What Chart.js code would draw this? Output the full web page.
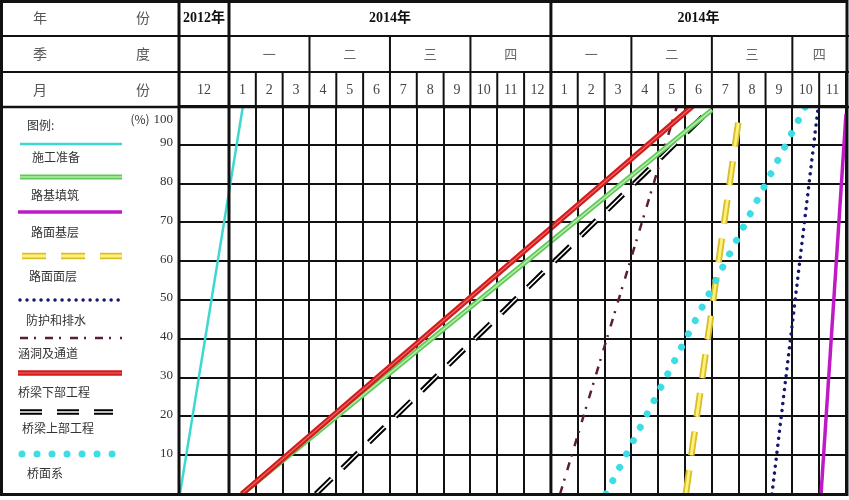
<!DOCTYPE html>
<html><head><meta charset="utf-8">
<script src="https://cdn.jsdelivr.net/npm/chart.js@4/dist/chart.umd.min.js"></script>
<style>html,body{margin:0;padding:0;background:#fff}#wrap{width:849px;height:500px;position:relative}</style>
</head><body><div id="wrap"><canvas id="c"></canvas></div>
<script>
// ---------- DATA ----------
// x = months counted from the start of the first 2014 column (the 2012 "12" column lies left of 0)
const seriesNames = ['施工准备','路基填筑','路面基层','路面面层','防护和排水','涵洞及通道','桥梁下部工程','桥梁上部工程','桥面系'];
const startMonth  = [-1.83, 0.48, 22.07, 17.03, 20.24, 12.34, 0.48, 3.24, 14.05];
const startPercent= [0, 0, 0, 0, 0, 0, 0, 0, 0];
const endMonth    = [0.52, 18.0, 23.0, 19.05, 21.95, 16.70, 17.29, 18.0, 21.5];
const endPercent  = [100, 99, 98, 99, 99, 100, 100, 99.5, 100];

const yearLabels    = ['2012年', '2014年', '2014年'];
const quarterLabels = ['一','二','三','四','一','二','三','四'];
const monthLabels   = ['12','1','2','3','4','5','6','7','8','9','10','11','12','1','2','3','4','5','6','7','8','9','10','11'];
const percentTicks  = [10,20,30,40,50,60,70,80,90,100];
const headerTitles  = [['年','份'],['季','度'],['月','份']];

// ---------- LAYOUT / STYLE ----------
const COL2012 = 1.864;            // width of 2012 column in month units
const X_MIN = -COL2012, X_MAX = 23;
const monthBounds = [X_MIN]; for (let m = 0; m <= 23; m++) monthBounds.push(m);
const yearSpans = [[X_MIN,0],[0,12],[12,23]];
const quarterSpans = [[0,3],[3,6],[6,9],[9,12],[12,15],[15,18],[18,21],[21,23]];

const styles = [
  [{c:'#3ED8D2', w:2.5}],
  [{c:'#5FC85A', w:5}, {c:'#B8EDA8', w:1.6}],
  [{c:'#BE1BC6', w:3.5}],
  [{c:'#D9BE2C', w:6.5, d:[24,15]}, {c:'#FFF27A', w:2.8, d:[24,15]}],
  [{c:'#16166E', w:3.5, d:[0.01,7], cap:'round'}],
  [{c:'#5A1E3C', w:2.5, d:[8,6,2,9]}],
  [{c:'#D21C1C', w:5.5}, {c:'#EE6A6A', w:1.1}],
  [{c:'#000000', w:5.5, d:[22,15]}, {c:'#FFFFFF', w:1.5, d:[22,15]}],
  [{c:'#3CDDE4', w:7, d:[0.01,15], cap:'round'}]
];
const drawSeq = [0,4,5,2,3,8,7,1,6]; // back to front

const datasets = [];
let ord = 1000;
drawSeq.forEach(i => {
  styles[i].forEach((s, k) => {
    datasets.push({
      label: seriesNames[i] + (k ? '_in' : ''),
      data: [{x:startMonth[i], y:startPercent[i]}, {x:endMonth[i], y:endPercent[i]}],
      borderColor: s.c, borderWidth: s.w, borderDash: s.d || [],
      borderCapStyle: s.cap || 'butt', pointRadius: 0, fill: false, tension: 0,
      order: ord--
    });
  });
});

const SERIF = '"Liberation Serif","DejaVu Serif",serif';
const CJK = '"Noto Sans CJK SC","Noto Sans",sans-serif';

const tablePlugin = {
  id: 'table',
  beforeDraw(chart) {
    const ctx = chart.ctx;
    ctx.save(); ctx.fillStyle = '#fff'; ctx.fillRect(0,0,chart.width,chart.height); ctx.restore();
  },
  afterDraw(chart) {
    const ctx = chart.ctx, xs = chart.scales.x, ys = chart.scales.y;
    const X = v => xs.getPixelForValue(v);
    const W = chart.width;
    const rows = [2, 36, 72, 107];
    const bottom = ys.getPixelForValue(0);
    ctx.save();
    ctx.strokeStyle = '#111';
    const line = (x1,y1,x2,y2,w) => { ctx.lineWidth = w; ctx.beginPath(); ctx.moveTo(x1,y1); ctx.lineTo(x2,y2); ctx.stroke(); };
    line(0, rows[1], W, rows[1], 2);
    line(0, rows[2], W, rows[2], 2);
    line(0, rows[3], W, rows[3], 2.5);
    quarterSpans.forEach(s => { line(X(s[0]), rows[1], X(s[0]), rows[2], 2); });
    monthBounds.forEach(v => line(X(v), rows[2], X(v), rows[3], 2));
    [X_MIN, 0, 12].forEach(v => line(X(v), rows[0], X(v), bottom, 3));
    ctx.lineWidth = 3; ctx.strokeRect(1.5, 1.5, X(X_MAX) - 0.5, bottom - 1);

    ctx.textAlign = 'center'; ctx.textBaseline = 'middle';
    const cy = [18, 54, 90];
    ctx.fillStyle = '#555'; ctx.font = '14px ' + CJK;
    headerTitles.forEach((t, r) => { ctx.fillText(t[0], 40, cy[r]); ctx.fillText(t[1], 143, cy[r]); });
    ctx.fillStyle = '#111'; ctx.font = 'bold 14px ' + SERIF + ',' + CJK;
    yearSpans.forEach((s, i) => ctx.fillText(yearLabels[i], (X(s[0]) + X(s[1])) / 2, cy[0]));
    ctx.fillStyle = '#666'; ctx.font = '13px ' + CJK;
    quarterSpans.forEach((s, i) => ctx.fillText(quarterLabels[i], (X(s[0]) + X(s[1])) / 2, cy[1]));
    ctx.fillStyle = '#444'; ctx.font = '14px ' + SERIF;
    monthLabels.forEach((m, i) => ctx.fillText(m, (X(monthBounds[i]) + X(monthBounds[i+1])) / 2, cy[2]));

    ctx.textAlign = 'right'; ctx.font = '13px ' + SERIF; ctx.fillStyle = '#333';
    percentTicks.forEach(p => {
      const y = ys.getPixelForValue(p);
      ctx.fillText(String(p), 173, p === 100 ? y + 14 : y - 2);
    });
    ctx.textAlign = 'center'; ctx.font = '12px ' + CJK;
    ctx.fillText('(%)', 140, 119);

    ctx.textAlign = 'left'; ctx.fillStyle = '#333'; ctx.font = '12px ' + CJK;
    ctx.fillText('图例:', 27, 125);
    const sampleY = [144,177,212,256,300,338,373,412,454];
    const labelY  = [157,195,232,276,320,353,392,428,473];
    const labelX  = [32,31,31,29,26,18,18,22,27];
    const sampleX = [[20,122],[20,122],[18,122],[22,122],[20,120],[20,122],[18,122],[20,113],[22,114]];
    seriesNames.forEach((n, i) => {
      styles[i].forEach(s => {
        ctx.strokeStyle = s.c; ctx.lineWidth = s.w; ctx.setLineDash(s.d || []);
        ctx.lineCap = s.cap || 'butt';
        ctx.beginPath(); ctx.moveTo(sampleX[i][0], sampleY[i]); ctx.lineTo(sampleX[i][1], sampleY[i]); ctx.stroke();
      });
      ctx.setLineDash([]); ctx.lineCap = 'butt';
      ctx.fillStyle = '#333';
      ctx.fillText(n, labelX[i], labelY[i]);
    });
    ctx.restore();
  }
};

new Chart(document.getElementById('c'), {
  type: 'line',
  data: { datasets },
  options: {
    responsive: true, maintainAspectRatio: false, animation: false,
    layout: { padding: { left: 179, top: 106, right: 3, bottom: 6 } },
    plugins: { legend: { display: false }, tooltip: { enabled: false } },
    scales: {
      x: { type: 'linear', min: X_MIN, max: X_MAX,
           afterBuildTicks(s) { s.ticks = monthBounds.map(v => ({ value: v })); },
           afterFit(s) { s.height = 0; },
           ticks: { display: false },
           grid: { color: '#111', lineWidth: 2, drawTicks: false },
           border: { display: false } },
      y: { min: 0, max: 100,
           ticks: { display: false, stepSize: 10 },
           afterFit(s) { s.width = 0; },
           grid: { color: '#111', lineWidth: 2, drawTicks: false },
           border: { display: false } }
    }
  },
  plugins: [tablePlugin]
});
</script>
</body></html>
